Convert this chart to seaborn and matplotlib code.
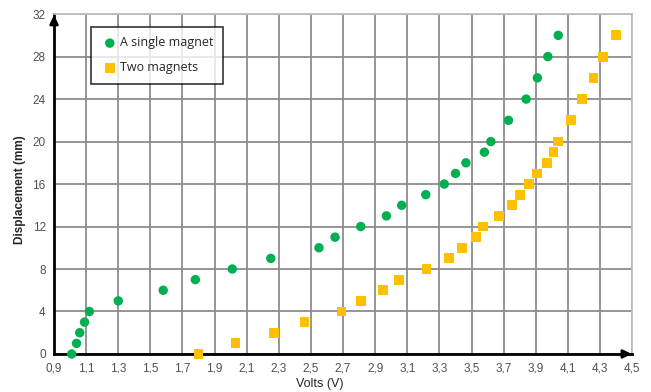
"""
Displacement vs volts for one and two magnets
"""

import matplotlib
matplotlib.use("Agg")
import matplotlib.pyplot as plt
import seaborn as sns
import pandas as pd

# data
single_volts = [1.01, 1.04, 1.06, 1.09, 1.12, 1.30, 1.58, 1.78, 2.01, 2.25, 2.55, 2.65, 2.81,
                2.97, 3.065, 3.215, 3.33, 3.40, 3.465, 3.58, 3.62, 3.73, 3.84, 3.91, 3.975, 4.04]
single_disp = [0, 1, 2, 3, 4, 5, 6, 7, 8, 9, 10, 11, 12, 13, 14, 15, 16, 17, 18, 19, 20,
               22, 24, 26, 28, 30]
two_volts = [1.80, 2.03, 2.27, 2.46, 2.69, 2.81, 2.95, 3.05, 3.22, 3.36, 3.44, 3.53, 3.57,
             3.67, 3.75, 3.80, 3.86, 3.91, 3.97, 4.01, 4.04, 4.12, 4.19, 4.26, 4.32, 4.40]
two_disp = [0, 1, 2, 3, 4, 5, 6, 7, 8, 9, 10, 11, 12, 13, 14, 15, 16, 17, 18, 19, 20,
            22, 24, 26, 28, 30]
x_ticks = [0.9, 1.1, 1.3, 1.5, 1.7, 1.9, 2.1, 2.3, 2.5, 2.7, 2.9, 3.1, 3.3, 3.5, 3.7, 3.9,
           4.1, 4.3, 4.5]
y_ticks = [0, 4, 8, 12, 16, 20, 24, 28, 32]

sns.set_style("white")
plt.rcParams['font.family'] = ['Liberation Sans', 'DejaVu Sans']

df_single = pd.DataFrame({"volts": single_volts, "disp": single_disp})
df_two = pd.DataFrame({"volts": two_volts, "disp": two_disp})

fig = plt.figure(figsize=(6.51, 3.92), dpi=100)
ax = fig.add_axes([0.083, 0.097, 0.888, 0.867])

sns.scatterplot(data=df_single, x="volts", y="disp", ax=ax, color="#00B050", marker="o",
                s=46, edgecolor="none", label="A single magnet", zorder=3, clip_on=False)
sns.scatterplot(data=df_two, x="volts", y="disp", ax=ax, color="#FFC000", marker="s",
                s=50, edgecolor="none", label="Two magnets", zorder=3, clip_on=False)

ax.set_xlim(0.9, 4.5)
ax.set_ylim(0, 32)
ax.set_xticks(x_ticks)
ax.set_xticklabels([f"{v:.1f}".replace(".", ",") for v in x_ticks])
ax.set_yticks(y_ticks)
ax.set_yticklabels([str(v) for v in y_ticks])
ax.tick_params(axis="both", length=0, labelsize=8.5, colors="#505050")
ax.tick_params(axis="x", pad=6)
ax.tick_params(axis="y", pad=6)

ax.grid(True, color="#8c8c8c", linewidth=1.3)
ax.set_axisbelow(True)

for side in ["top", "right"]:
    ax.spines[side].set_color("#bdbdbd")
    ax.spines[side].set_linewidth(1.3)
for side in ["left", "bottom"]:
    ax.spines[side].set_color("black")
    ax.spines[side].set_linewidth(2)
    ax.spines[side].set_zorder(2.5)

# arrow heads on the axes
ax.annotate("", xy=(1.004, 0), xytext=(0.98, 0), xycoords="axes fraction",
            arrowprops=dict(arrowstyle="-|>", color="black", lw=2, mutation_scale=12),
            annotation_clip=False)
ax.annotate("", xy=(0, 1.005), xytext=(0, 0.97), xycoords="axes fraction",
            arrowprops=dict(arrowstyle="-|>", color="black", lw=2, mutation_scale=12),
            annotation_clip=False)

ax.set_xlabel("Volts (V)", fontsize=9, color="#262626")
ax.xaxis.set_label_coords(0.46, -0.088)
ax.xaxis.label.set_verticalalignment("center")
ax.set_ylabel("Displacement (mm)", fontsize=8.5, fontweight="bold", color="#262626")
ax.yaxis.set_label_coords(-0.059, 0.485)
ax.yaxis.label.set_verticalalignment("center")

leg = ax.legend(loc="upper left", bbox_to_anchor=(0.064, 0.962), borderaxespad=0,
                frameon=True, fancybox=False, handletextpad=0.1,
                markerscale=1.0, borderpad=0.75, labelspacing=0.95, handlelength=1.5,
                prop={"family": "Open Sans", "size": 9})
leg.get_frame().set_edgecolor("black")
leg.get_frame().set_linewidth(1.2)
for t in leg.get_texts():
    t.set_color("#262626")

fig.savefig("out.png", dpi=100)
